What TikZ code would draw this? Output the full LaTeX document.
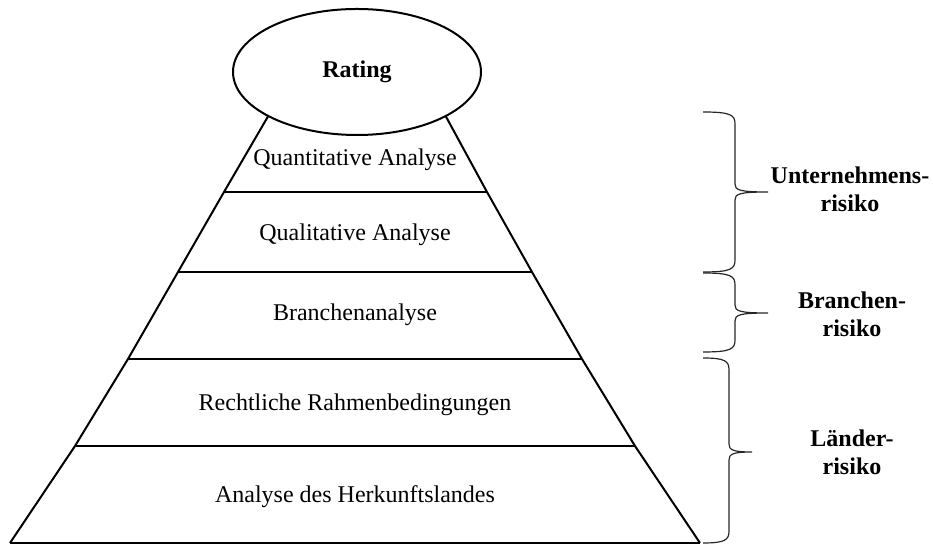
\documentclass[tikz,border=0pt]{standalone}
\usepackage{fontspec}
\setmainfont{Liberation Serif}
\usetikzlibrary{shapes.geometric}

\newcommand{\riskbrace}[5]{%
  \draw[bracket] (703,#3) .. controls (#1-4,#3) and (#1,#3-3) .. (#1,#3-12)
    -- (#1,#4+8) .. controls (#1,#4+2) and (#1+4,#4) .. (#2,#4)
    .. controls (#1+4,#4) and (#1,#4-2) .. (#1,#4-8)
    -- (#1,#5+12) .. controls (#1,#5+3) and (#1-4,#5) .. (703,#5);}

\begin{document}
\begin{tikzpicture}[x=0.5pt,y=0.5pt,font=\fontsize{12}{14}\selectfont,
  level/.style={line width=1pt,line join=round},
  risk/.style={font=\fontsize{12}{14}\selectfont\bfseries,align=center},
  bracket/.style={line width=0.6pt,black!85}]
\useasboundingbox (0,0) rectangle (933,545);
\coordinate (l0) at (10,2);   \coordinate (r0) at (700,2);
\coordinate (l1) at (75,99);  \coordinate (r1) at (635,99);
\coordinate (l2) at (128,186);\coordinate (r2) at (582,186);
\coordinate (l3) at (178,273);\coordinate (r3) at (532,273);
\coordinate (l4) at (224,353);\coordinate (r4) at (487,353);
\coordinate (l5) at (270,432);\coordinate (r5) at (444,432);
\draw[level] (l0) -- (l1) -- (l2) -- (l3) -- (l4) -- (l5);
\draw[level] (r0) -- (r1) -- (r2) -- (r3) -- (r4) -- (r5);
\foreach \i in {0,...,4} \draw[level] (l\i) -- (r\i);
\node[ellipse,draw,line width=1pt,fill=white,inner sep=0pt,
  minimum width=124pt,minimum height=63pt] (rating) at (357,473) {\bfseries Rating};
\node (quanti) at (355,385) {Quantitative Analyse};
\node (quali) at (355,310) {Qualitative Analyse};
\node (branche) at (355,230) {Branchenanalyse};
\node (recht) at (355,140) {Rechtliche Rahmenbedingungen};
\node (herkunft) at (355,48) {Analyse des Herkunftslandes};
\riskbrace{735}{768}{433}{353}{273}
\riskbrace{735}{768}{272}{232}{193}
\riskbrace{729}{752}{187}{93}{2}
\node[risk] (unternehmen) at (850,356) {Unternehmens-\\risiko};
\node[risk] (branchenrisiko) at (852,231) {Branchen-\\risiko};
\node[risk] (laender) at (852,93) {Länder-\\risiko};
\end{tikzpicture}
\end{document}
